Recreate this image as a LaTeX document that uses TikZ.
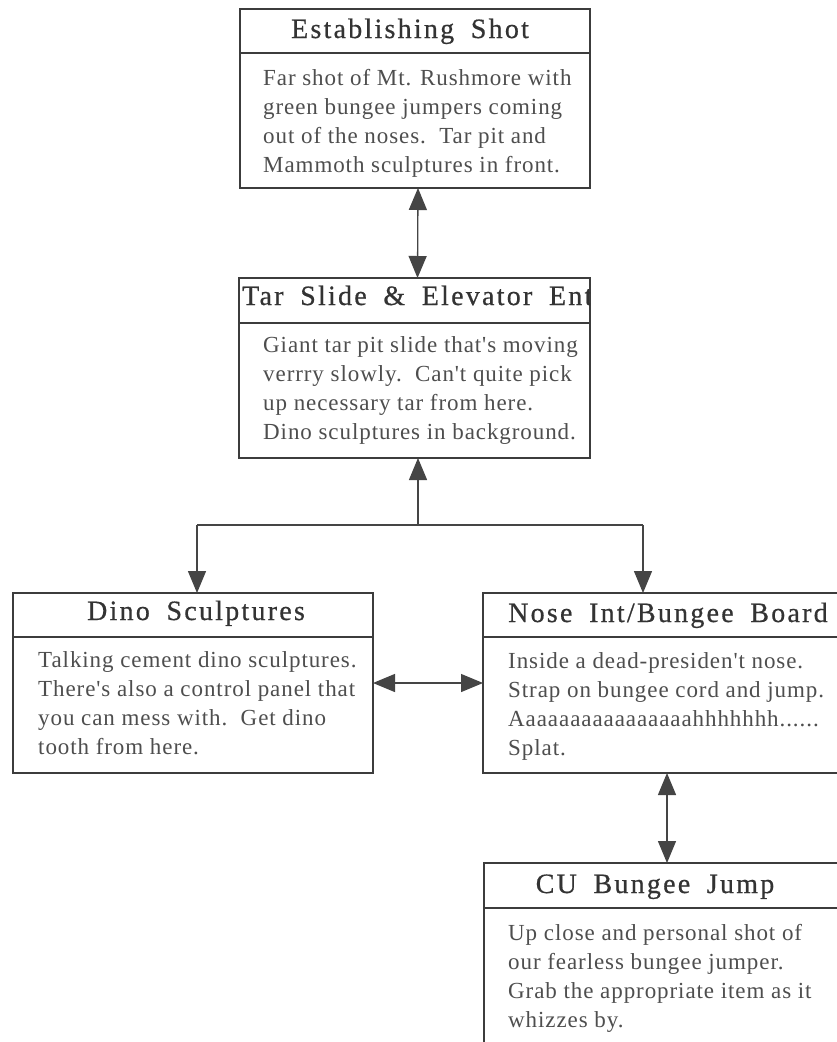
\documentclass[tikz,border=0pt]{standalone}
\usepackage{fontspec}
\setmainfont{Liberation Serif}
\newfontfamily\bodyfont[LetterSpace=4]{Liberation Serif}
\newfontfamily\headfont[LetterSpace=8,WordSpace=1.8,FakeBold=0.6]{Liberation Serif}
\usetikzlibrary{arrows.meta}

\definecolor{boxgray}{HTML}{3C3C3C}
\definecolor{linkgray}{HTML}{454545}
\definecolor{headgray}{HTML}{333333}
\definecolor{bodygray}{HTML}{4E4E4E}

\newcommand{\bodylines}[1]{{\fontsize{23}{29}\selectfont\begin{tabular}[t]{@{}l@{}}#1\end{tabular}}}

\begin{document}
\begin{tikzpicture}[x=1pt,y=-1pt,
  card/.style={draw=boxgray, line width=1.8pt, rectangle, inner sep=0pt, outer sep=0pt, anchor=north west},
  divider/.style={draw=boxgray, line width=1.8pt},
  head/.style={inner sep=0pt, text=headgray, font=\headfont\fontsize{28}{32}\selectfont},
  body/.style={inner sep=0pt, anchor=base west, text=bodygray, font=\bodyfont},
  link/.style={draw=linkgray, line width=1.3pt},
  onehead/.style={link, -{Triangle[length=22pt,width=18pt]}},
  twohead/.style={link, {Triangle[length=22pt,width=18pt]}-{Triangle[length=22pt,width=18pt]}}
]
\useasboundingbox (0,0) rectangle (837,1042);
\clip (0,0) rectangle (837,1042);
\fill[white] (0,0) rectangle (837,1042);

% cards
\node[card, minimum width=350pt, minimum height=179pt] (est) at (240,9) {};
\node[card, minimum width=351pt, minimum height=180pt] (tar) at (239,278) {};
\node[card, minimum width=360pt, minimum height=180pt] (dino) at (13,593) {};
\node[card, minimum width=360pt, minimum height=180pt] (nose) at (483,593) {};
\node[card, minimum width=360pt, minimum height=200pt] (cu) at (484,863) {};

% title dividers
\draw[divider] (est.west |- 0,53) -- (est.east |- 0,53);
\draw[divider] (tar.west |- 0,323) -- (tar.east |- 0,323);
\draw[divider] (dino.west |- 0,637) -- (dino.east |- 0,637);
\draw[divider] (nose.west |- 0,637) -- (nose.east |- 0,637);
\draw[divider] (cu.west |- 0,908) -- (cu.east |- 0,908);

% titles
\node[head, anchor=base] (estT) at (410,38) {Establishing Shot};
\begin{scope}
  \clip (239,278) rectangle (590,323);
  \node[head, anchor=base west] (tarT) at (242,305) {Tar Slide \& Elevator Ent};
\end{scope}
\node[head, anchor=base] (dinoT) at (196,620) {Dino Sculptures};
\node[head, anchor=base west] (noseT) at (508,622) {Nose Int/Bungee Board};
\node[head, anchor=base] (cuT) at (655,893) {CU Bungee Jump};

% descriptions
\node[body] (estB) at (263,85) {\bodylines{Far shot of Mt. Rushmore with\\green bungee jumpers coming\\out of the noses.\ \ Tar pit and\\Mammoth sculptures in front.}};
\node[body] (tarB) at (263,352) {\bodylines{Giant tar pit slide that's moving\\verrry slowly.\ \ Can't quite pick\\up necessary tar from here.\\Dino sculptures in background.}};
\node[body] (dinoB) at (38,667) {\bodylines{Talking cement dino sculptures.\\There's also a control panel that\\you can mess with.\ \ Get dino\\tooth from here.}};
\node[body] (noseB) at (508,668) {\bodylines{Inside a dead-presiden't nose.\\Strap on bungee cord and jump.\\Aaaaaaaaaaaaaaaahhhhhhh......\\Splat.}};
\node[body] (cuB) at (508,940) {\bodylines{Up close and personal shot of\\our fearless bungee jumper.\\Grab the appropriate item as it\\whizzes by.}};

% connectors
\draw[twohead] ([xshift=3pt]est.south) -- ([xshift=3pt]tar.north);

\coordinate (split) at (418,525);
\coordinate (splitL) at (197,525);
\coordinate (splitR) at (643,525);
\draw[onehead] (split) -- (split |- tar.south);
\draw[link] (splitL) -- (splitR);
\draw[onehead] (splitL) -- (splitL |- dino.north);
\draw[onehead] (splitR) -- (splitR |- nose.north);

\draw[twohead] (dino.east) -- (nose.west);
\coordinate (drop) at ([xshift=4pt]nose.south);
\draw[twohead] (drop) -- (drop |- cu.north);
\end{tikzpicture}
\end{document}
